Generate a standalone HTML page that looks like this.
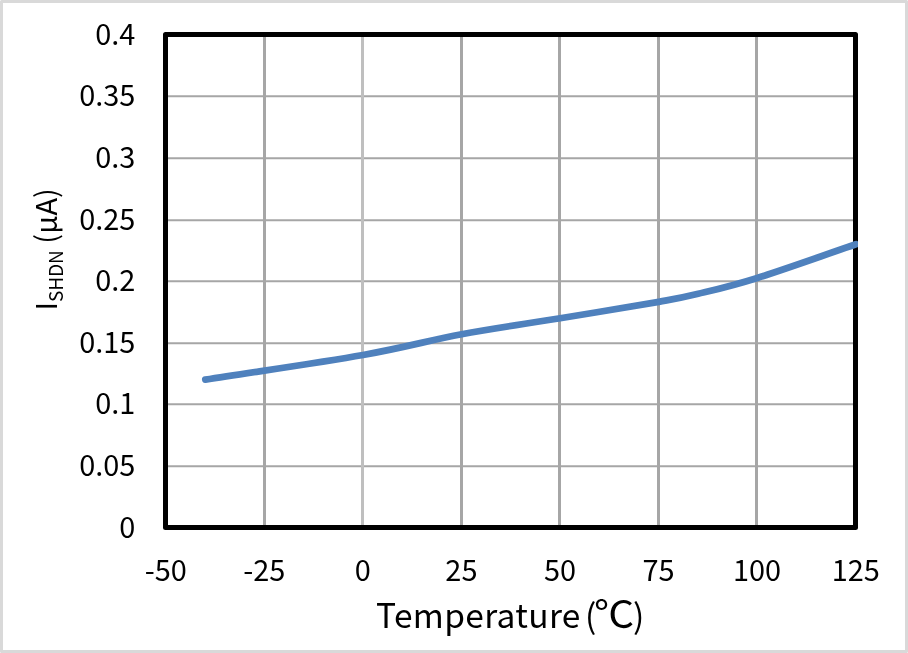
<!DOCTYPE html>
<html lang="en"><head><meta charset="utf-8"><title>ISHDN vs Temperature</title>
<style>
html,body{margin:0;padding:0;background:#fff;}
body{width:908px;height:653px;overflow:hidden;}
svg{display:block;}
text{font-family:"Noto Sans CJK JP", "Liberation Sans", sans-serif;fill:#000;}
.tick{font-size:28.9px;}
.xt{font-size:33.5px;}
.yt{font-size:29px;}
</style></head><body>
<svg width="908" height="653" viewBox="0 0 908 653">
<rect x="0" y="0" width="908" height="653" fill="#fff"/>
<rect x="1.5" y="1.5" width="905" height="650" fill="#fff" stroke="#d9d9d9" stroke-width="3" stroke-linejoin="round"/>

<g stroke="#a6a6a6" fill="none">
<line x1="165.5" y1="466.25" x2="855.5" y2="466.25" stroke-width="2"/>
<line x1="165.5" y1="404.25" x2="855.5" y2="404.25" stroke-width="2"/>
<line x1="165.5" y1="343.25" x2="855.5" y2="343.25" stroke-width="2"/>
<line x1="165.5" y1="281.25" x2="855.5" y2="281.25" stroke-width="2"/>
<line x1="165.5" y1="220.25" x2="855.5" y2="220.25" stroke-width="2"/>
<line x1="165.5" y1="158.25" x2="855.5" y2="158.25" stroke-width="2"/>
<line x1="165.5" y1="96.25" x2="855.5" y2="96.25" stroke-width="2"/>
<line x1="264.5" y1="34.5" x2="264.5" y2="527.5" stroke-width="3"/>
<line x1="362.5" y1="34.5" x2="362.5" y2="527.5" stroke-width="3" stroke="#bfbfbf"/>
<line x1="461.5" y1="34.5" x2="461.5" y2="527.5" stroke-width="3"/>
<line x1="559.5" y1="34.5" x2="559.5" y2="527.5" stroke-width="3"/>
<line x1="658.5" y1="34.5" x2="658.5" y2="527.5" stroke-width="3"/>
<line x1="756.5" y1="34.5" x2="756.5" y2="527.5" stroke-width="3"/>
</g>
<rect x="165.5" y="34.5" width="690.0" height="493.0" fill="none" stroke="#000" stroke-width="5" stroke-linejoin="round"/>
<clipPath id="c"><rect x="160" y="30" width="698" height="502"/></clipPath>
<path clip-path="url(#c)" d="M205.33 379.60 C257.90 371.39 320.33 362.51 363.04 354.95 C405.76 347.39 428.76 340.37 461.61 334.25 C494.47 328.13 527.33 323.63 560.19 318.23 C593.04 312.82 635.76 305.90 658.76 301.83 C678.57 298.33 678.64 298.56 698.19 293.82 C714.61 289.84 731.04 286.18 757.33 277.92 C783.61 269.66 823.04 255.49 855.90 244.28" fill="none" stroke="#4f81bd" stroke-width="6.75" stroke-linecap="round" stroke-linejoin="round"/>
<text class="tick" x="135.3" y="537.7" text-anchor="end">0</text>
<text class="tick" x="135.3" y="476.1" text-anchor="end">0.05</text>
<text class="tick" x="135.3" y="414.4" text-anchor="end">0.1</text>
<text class="tick" x="135.3" y="352.8" text-anchor="end">0.15</text>
<text class="tick" x="135.3" y="291.2" text-anchor="end">0.2</text>
<text class="tick" x="135.3" y="229.6" text-anchor="end">0.25</text>
<text class="tick" x="135.3" y="167.9" text-anchor="end">0.3</text>
<text class="tick" x="135.3" y="106.3" text-anchor="end">0.35</text>
<text class="tick" x="135.3" y="44.7" text-anchor="end">0.4</text>
<text class="tick" x="165.7" y="581.4" text-anchor="middle">-50</text>
<text class="tick" x="264.3" y="581.4" text-anchor="middle">-25</text>
<text class="tick" x="362.8" y="581.4" text-anchor="middle">0</text>
<text class="tick" x="461.4" y="581.4" text-anchor="middle">25</text>
<text class="tick" x="560.0" y="581.4" text-anchor="middle">50</text>
<text class="tick" x="658.6" y="581.4" text-anchor="middle">75</text>
<text class="tick" x="757.1" y="581.4" text-anchor="middle">100</text>
<text class="tick" x="855.7" y="581.4" text-anchor="middle">125</text>
<text class="xt" y="627.70"><tspan x="376.00" letter-spacing="0.33">Temperature</tspan> <tspan x="585.00">(</tspan><tspan x="593.90" font-size="37.30px" textLength="40.28" lengthAdjust="spacingAndGlyphs">℃</tspan><tspan x="633.00">)</tspan></text>
<text class="yt" transform="translate(57.2 249.4) rotate(-90)" text-anchor="middle">I<tspan font-size="19px" dy="6">SHDN</tspan><tspan dy="-6"> (µA)</tspan></text>
</svg></body></html>
